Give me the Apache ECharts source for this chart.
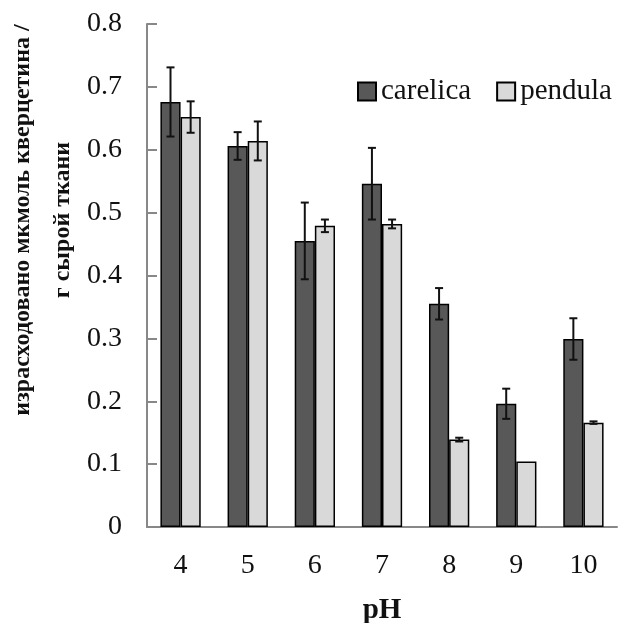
<!DOCTYPE html>
<html>
<head>
    <meta charset="utf-8">
    <title>pH</title>
    <script src="https://cdn.jsdelivr.net/npm/echarts@6/dist/echarts.min.js"></script>
    <style>
        html, body { margin: 0; padding: 0; background: #fff; }
    </style>
</head>
<body>
    <div id="main" style="width: 624px;height:623px;"></div>

    <script type="text/javascript">
        // данные
        var phValues = ['4', '5', '6', '7', '8', '9', '10']
        var carelica = [0.676, 0.606, 0.455, 0.546, 0.355, 0.196, 0.299]
        var carelicaErr = [0.055, 0.022, 0.061, 0.057, 0.025, 0.024, 0.033]
        var pendula = [0.652, 0.614, 0.479, 0.482, 0.139, 0.104, 0.166]
        var pendulaErr = [0.025, 0.031, 0.010, 0.007, 0.003, 0, 0.002]
        var yTicks = [0, 0.1, 0.2, 0.3, 0.4, 0.5, 0.6, 0.7, 0.8]

        var serif = 'Liberation Serif'

        // усы погрешностей, side = -1 слева, +1 справа
        var errorSeries = function (values, errs, side) {
            var data = values.map(function (v, i) {
                return [i, v - errs[i], v + errs[i]]
            })
            return {
                type: 'custom',
                silent: true,
                z: 10,
                data: data,
                renderItem: function (params, api) {
                    var band = api.size([1, 0])[0]
                    var shift = side * band * 0.15
                    var lo = api.coord([api.value(0), api.value(1)])
                    var hi = api.coord([api.value(0), api.value(2)])
                    var x = lo[0] + shift
                    var cap = 4
                    var style = { stroke: '#111', lineWidth: 2 }
                    if (hi[1] === lo[1]) {
                        return { type: 'group', children: [] }
                    }
                    return {
                        type: 'group',
                        children: [
                            { type: 'line', shape: { x1: x, y1: hi[1], x2: x, y2: lo[1] }, style: style },
                            { type: 'line', shape: { x1: x - cap, y1: hi[1], x2: x + cap, y2: hi[1] }, style: style },
                            { type: 'line', shape: { x1: x - cap, y1: lo[1], x2: x + cap, y2: lo[1] }, style: style }
                        ]
                    }
                }
            }
        }

        var myChart = echarts.init(document.getElementById('main'))
        var option = {
            animation: false,
            textStyle: { fontFamily: serif },
            grid: { left: 147, right: 7, top: 24, bottom: 96, outerBoundsMode: 'none' },
            legend: {
                data: ['carelica', 'pendula'],
                left: 352,
                top: 72,
                itemWidth: 18,
                itemHeight: 18,
                itemGap: 25,
                icon: 'rect',
                textStyle: { fontFamily: serif, fontSize: 29, color: '#111' }
            },
            xAxis: {
                type: 'category',
                data: phValues,
                name: 'pH',
                nameLocation: 'middle',
                nameGap: 69,
                nameTextStyle: { fontFamily: serif, fontSize: 29, fontWeight: 'bold', color: '#111' },
                axisLine: { lineStyle: { color: '#888', width: 2 } },
                axisTick: { inside: true, length: 7, lineStyle: { color: '#888', width: 2 } },
                axisLabel: { fontFamily: serif, fontSize: 28, color: '#111', margin: 25 }
            },
            yAxis: {
                type: 'value',
                min: 0,
                max: 0.8,
                interval: 0.1,
                splitLine: { show: false },
                axisLine: { show: true, lineStyle: { color: '#888', width: 2 } },
                axisTick: { show: true, inside: true, length: 10, lineStyle: { color: '#888', width: 2 } },
                axisLabel: {
                    fontFamily: serif, fontSize: 28, color: '#111', margin: 25,
                    formatter: function (v) {
                        var t = yTicks.filter(function (x) { return Math.abs(x - v) < 1e-9 })
                        return t.length ? String(t[0]) : ''
                    }
                }
            },
            graphic: [{
                type: 'text',
                x: 43,
                y: 220,
                rotation: Math.PI / 2,
                style: {
                    text: 'израсходовано мкмоль кверцетина /\nг сырой ткани',
                    fontFamily: serif,
                    fontSize: 24,
                    fontWeight: 'bold',
                    fill: '#111',
                    align: 'center',
                    verticalAlign: 'middle',
                    lineHeight: 40
                }
            }],
            series: [
                {
                    name: 'carelica',
                    type: 'bar',
                    barGap: 0,
                    barCategoryGap: '40%',
                    itemStyle: { color: '#585858', borderColor: '#000', borderWidth: 1.5 },
                    data: carelica
                },
                {
                    name: 'pendula',
                    type: 'bar',
                    barGap: 0,
                    barCategoryGap: '40%',
                    itemStyle: { color: '#d9d9d9', borderColor: '#000', borderWidth: 1.5 },
                    data: pendula
                },
                errorSeries(carelica, carelicaErr, -1),
                errorSeries(pendula, pendulaErr, 1)
            ]
        }
        myChart.setOption(option)
    </script>
</body>
</html>
